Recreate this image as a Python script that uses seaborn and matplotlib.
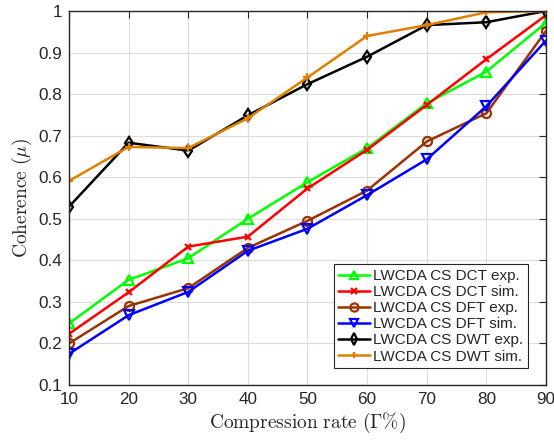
import matplotlib
matplotlib.use("Agg")
import matplotlib.pyplot as plt
import seaborn as sns

# compression rates and coherence values
rates = [10, 20, 30, 40, 50, 60, 70, 80, 90]
dct_exp = [0.248, 0.353, 0.405, 0.500, 0.588, 0.670, 0.778, 0.854, 0.972]
dct_sim = [0.223, 0.323, 0.433, 0.457, 0.573, 0.666, 0.774, 0.884, 0.990]
dft_exp = [0.200, 0.290, 0.333, 0.430, 0.495, 0.568, 0.686, 0.754, 0.952]
dft_sim = [0.175, 0.268, 0.324, 0.423, 0.476, 0.557, 0.643, 0.771, 0.929]
dwt_exp = [0.529, 0.683, 0.664, 0.749, 0.824, 0.890, 0.966, 0.973, 1.000]
dwt_sim = [0.591, 0.673, 0.670, 0.742, 0.840, 0.940, 0.966, 0.997, 1.000]

labels = ["LWCDA CS DCT exp.", "LWCDA CS DCT sim.", "LWCDA CS DFT exp.",
          "LWCDA CS DFT sim.", "LWCDA CS DWT exp.", "LWCDA CS DWT sim."]
series = [dct_exp, dct_sim, dft_exp, dft_sim, dwt_exp, dwt_sim]
colors = ["#00ff00", "#ff0000", "#993300", "#0000ff", "#000000", "#e08000"]
markers = ["^", "x", "o", "v", "d", "+"]
msizes = [7, 4.5, 6.5, 7, 6.5, 5.5]

sns.set_style("white")
plt.rcParams["font.family"] = ["Liberation Sans", "DejaVu Sans"]
plt.rcParams["mathtext.fontset"] = "cm"

fig = plt.figure(figsize=(5.54, 4.4), dpi=100)
ax = fig.add_axes([0.1245, 0.125, 0.8611, 0.85])

for y, lab, c, m, ms in zip(series, labels, colors, markers, msizes):
    sns.lineplot(x=rates, y=y, ax=ax, color=c, marker=m, label=lab,
                 linewidth=1.8, markersize=ms, markeredgewidth=1.6,
                 markerfacecolor="none", markeredgecolor=c)

ax.set_xlim(10, 90)
ax.set_ylim(0.1, 1.0)
ax.set_xticks(rates)
yt = [0.1, 0.2, 0.3, 0.4, 0.5, 0.6, 0.7, 0.8, 0.9, 1.0]
ax.set_yticks(yt)
ax.set_yticklabels([f"{v:g}" for v in yt])
ax.grid(True, color="#dcdcdc", linewidth=0.8)
ax.set_axisbelow(True)
for s in ax.spines.values():
    s.set_color("#262626")
    s.set_linewidth(1.0)
ax.tick_params(direction="in", top=True, right=True, length=5, labelsize=12.3,
               colors="#262626", labelcolor="#262626", pad=5)

ax.set_xlabel(r"$\mathrm{Compression\ rate\ (\Gamma\%)}$", fontsize=14,
              color="#262626", labelpad=3)
ax.set_ylabel(r"$\mathrm{Coherence}\ (\mu)$", fontsize=14,
              color="#262626", labelpad=3)

leg = ax.legend(loc="lower right", bbox_to_anchor=(0.962, 0.045),
                borderaxespad=0, fontsize=11, frameon=True, fancybox=False,
                edgecolor="#262626", framealpha=1, handlelength=2.1,
                handletextpad=0.2, borderpad=0.3, labelspacing=0.14,
                markerscale=0.9)
leg.get_frame().set_linewidth(0.8)

fig.savefig("out.png", dpi=100)
